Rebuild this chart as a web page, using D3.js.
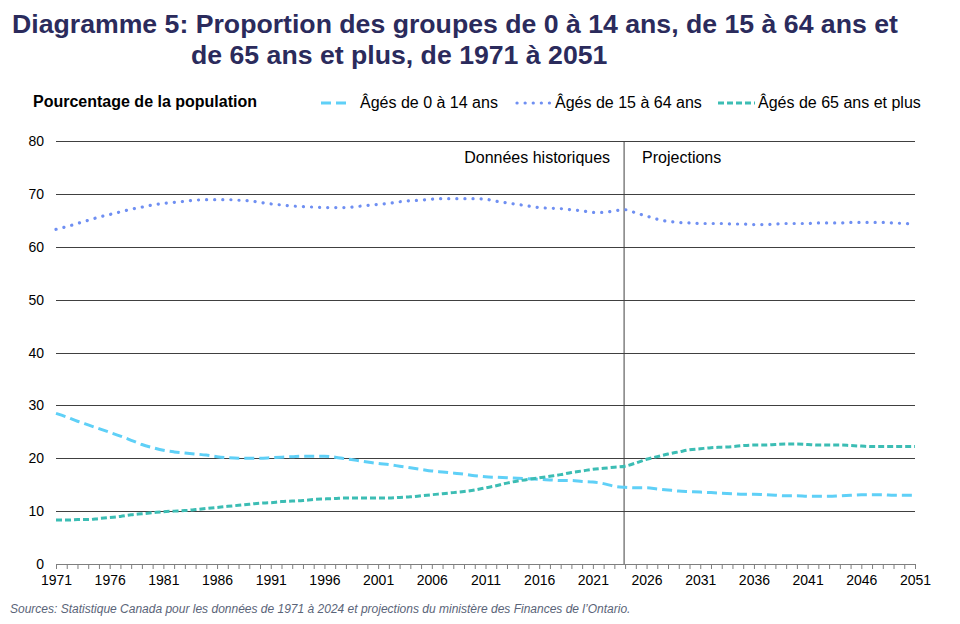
<!DOCTYPE html>
<html>
<head>
<meta charset="utf-8">
<script src="https://cdn.jsdelivr.net/npm/d3@7"></script>
<style>
  body { margin: 0; background: #fff; }
  svg { font-family: "Liberation Sans", Arial, sans-serif; }
</style>
</head>
<body>
<script>
// Data
var years = d3.range(1971, 2052);

var age0to14 = [
  28.5, 27.8, 27.0, 26.3, 25.6, 24.9, 24.2, 23.4, 22.6, 22.0,
  21.5, 21.2, 21.0, 20.8, 20.6, 20.3, 20.1, 20.0, 20.0, 20.0,
  20.1, 20.2, 20.3, 20.4, 20.4, 20.4, 20.2, 19.9, 19.6, 19.3,
  19.0, 18.8, 18.5, 18.2, 17.9, 17.6, 17.4, 17.2, 17.0, 16.7,
  16.5, 16.4, 16.3, 16.2, 16.1, 16.0, 15.9, 15.8, 15.8, 15.6,
  15.5, 15.2, 14.7, 14.5, 14.4, 14.4, 14.2, 14.0, 13.8, 13.7,
  13.6, 13.5, 13.4, 13.3, 13.2, 13.2, 13.1, 13.0, 12.9, 12.9,
  12.8, 12.8, 12.8, 12.9, 13.0, 13.1, 13.1, 13.1, 13.0, 13.0,
  13.0
];

var age15to64 = [
  63.3, 63.8, 64.4, 65.0, 65.6, 66.1, 66.6, 67.1, 67.5, 67.9,
  68.2, 68.4, 68.6, 68.8, 68.9, 68.9, 68.9, 68.8, 68.7, 68.4,
  68.1, 67.9, 67.7, 67.6, 67.5, 67.4, 67.4, 67.4, 67.6, 67.8,
  68.0, 68.2, 68.5, 68.7, 68.8, 69.0, 69.1, 69.1, 69.1, 69.1,
  69.0, 68.6, 68.3, 68.0, 67.7, 67.4, 67.3, 67.2, 67.0, 66.8,
  66.5, 66.5, 66.8, 67.0, 66.4, 65.8, 65.2, 64.8, 64.6, 64.5,
  64.4, 64.4, 64.4, 64.3, 64.3, 64.2, 64.2, 64.3, 64.4, 64.4,
  64.4, 64.5, 64.5, 64.5, 64.6, 64.6, 64.6, 64.6, 64.5, 64.4,
  64.3
];

var age65plus = [
  8.3, 8.3, 8.4, 8.4, 8.6, 8.8, 9.0, 9.3, 9.5, 9.7,
  9.9, 10.0, 10.1, 10.3, 10.5, 10.7, 10.9, 11.1, 11.3, 11.5,
  11.6, 11.8, 11.9, 12.0, 12.2, 12.3, 12.4, 12.5, 12.5, 12.5,
  12.5, 12.5, 12.6, 12.7, 12.9, 13.1, 13.3, 13.5, 13.7, 14.0,
  14.4, 14.8, 15.3, 15.7, 16.0, 16.3, 16.6, 16.9, 17.3, 17.6,
  17.9, 18.1, 18.3, 18.5, 19.1, 19.8, 20.3, 20.8, 21.2, 21.6,
  21.8, 22.0, 22.1, 22.2, 22.4, 22.5, 22.5, 22.6, 22.7, 22.7,
  22.6, 22.5, 22.5, 22.5, 22.4, 22.3, 22.2, 22.2, 22.2, 22.2,
  22.2
];

var seriesNames = ["Âgés de 0 à 14 ans", "Âgés de 15 à 64 ans", "Âgés de 65 ans et plus"];
var xTickYears = d3.range(1971, 2052, 5);
var yTicks = [0, 10, 20, 30, 40, 50, 60, 70, 80];
var splitYear = 2024;

// Chart params
var svgWidth = 960;
var svgHeight = 624;
var margin = { top: 141, right: 45, bottom: 60, left: 56 };
var width = 915 - margin.left;
var height = 564 - margin.top;

var svg = d3.select("body")
    .append("svg")
    .attr("width", svgWidth)
    .attr("height", svgHeight);

// Title (hanging indent)
var titleColor = "#2b2b5c";
var title = svg.append("text")
    .attr("font-size", 26.67)
    .attr("font-weight", "bold")
    .attr("fill", titleColor);
title.append("tspan").attr("x", 12).attr("y", 33)
    .text("Diagramme 5: Proportion des groupes de 0 à 14 ans, de 15 à 64 ans et");
title.append("tspan").attr("x", 191).attr("y", 64)
    .text("de 65 ans et plus, de 1971 à 2051");

var chartGroup = svg.append("g")
    .attr("transform", `translate(${margin.left}, ${margin.top})`);

// scales
var xScale = d3.scaleLinear().domain([1971, 2051]).range([0, width]);
var yScale = d3.scaleLinear().domain([0, 80]).range([height, 0]);

// gridlines
chartGroup.selectAll(".grid")
    .data(yTicks)
    .enter()
    .append("line")
    .attr("x1", 0)
    .attr("x2", width)
    .attr("y1", d => Math.round(yScale(d)) + 0.5)
    .attr("y2", d => Math.round(yScale(d)) + 0.5)
    .attr("stroke", d => d === 0 ? "#7f7f7f" : "#404040")
    .attr("stroke-width", 1);

// y labels
chartGroup.selectAll(".ylab")
    .data(yTicks)
    .enter()
    .append("text")
    .attr("x", -12)
    .attr("y", d => yScale(d) + 5)
    .attr("text-anchor", "end")
    .attr("font-size", 14)
    .attr("fill", "#000")
    .text(d => d);

// x axis with yearly ticks
var bottomAxis = d3.axisBottom(xScale)
    .tickValues(years)
    .tickSize(5)
    .tickFormat(d => xTickYears.indexOf(d) >= 0 ? d : "");
var xAxis = chartGroup.append("g")
    .attr("transform", `translate(0, ${height})`)
    .call(bottomAxis);
xAxis.select(".domain").attr("stroke", "#7f7f7f").attr("d", `M0.5,0.5H${width}`);
xAxis.selectAll(".tick line").attr("stroke", "#7f7f7f");
xAxis.selectAll(".tick text")
    .attr("font-size", 14)
    .attr("font-family", "Liberation Sans, Arial, sans-serif")
    .attr("fill", "#000")
    .attr("dy", "0.9em");

// split line between historical data and projections
chartGroup.append("line")
    .attr("x1", xScale(splitYear) - 1)
    .attr("x2", xScale(splitYear) - 1)
    .attr("y1", 0)
    .attr("y2", height)
    .attr("stroke", "#404040")
    .attr("stroke-width", 1);

chartGroup.append("text")
    .attr("x", xScale(splitYear) - 15)
    .attr("y", 22)
    .attr("text-anchor", "end")
    .attr("font-size", 16)
    .text("Données historiques");

chartGroup.append("text")
    .attr("x", xScale(splitYear) + 17)
    .attr("y", 22)
    .attr("font-size", 16)
    .text("Projections");

// lines
var styles = [
  { color: "#5fd0f7", dash: "10,5", cap: "butt", width: 3 },
  { color: "#6f8ff2", dash: "0.1,8", cap: "round", width: 3.2 },
  { color: "#3cbdb4", dash: "6,3", cap: "butt", width: 3 }
];
var allSeries = [age0to14, age15to64, age65plus];

var line = d3.line()
    .x((d, i) => xScale(years[i]))
    .y(d => yScale(d))
    .curve(d3.curveMonotoneX);

chartGroup.selectAll(".series")
    .data(allSeries)
    .enter()
    .append("path")
    .attr("d", d => line(d))
    .attr("fill", "none")
    .attr("stroke", (d, i) => styles[i].color)
    .attr("stroke-width", (d, i) => styles[i].width)
    .attr("stroke-dasharray", (d, i) => styles[i].dash)
    .attr("stroke-linecap", (d, i) => styles[i].cap);

// y axis title
svg.append("text")
    .attr("x", 33)
    .attr("y", 107)
    .attr("font-size", 16)
    .attr("font-weight", "bold")
    .text("Pourcentage de la population");

// legend
var legendItems = [
  { x0: 321, x1: 351, tx: 360 },
  { x0: 517, x1: 550, tx: 555 },
  { x0: 718, x1: 755, tx: 758 }
];
var legend = svg.append("g");
legendItems.forEach(function (it, i) {
  legend.append("line")
      .attr("x1", it.x0).attr("x2", it.x1)
      .attr("y1", 103).attr("y2", 103)
      .attr("stroke", styles[i].color)
      .attr("stroke-width", styles[i].width)
      .attr("stroke-dasharray", styles[i].dash)
      .attr("stroke-linecap", styles[i].cap);
  legend.append("text")
      .attr("x", it.tx)
      .attr("y", 108)
      .attr("font-size", 16)
      .text(seriesNames[i]);
});

// source
svg.append("text")
    .attr("x", 10)
    .attr("y", 613)
    .attr("font-size", 12)
    .attr("font-style", "italic")
    .attr("fill", "#5a6478")
    .text("Sources: Statistique Canada pour les données de 1971 à 2024 et projections du ministère des Finances de l’Ontario.");
</script>
</body>
</html>
